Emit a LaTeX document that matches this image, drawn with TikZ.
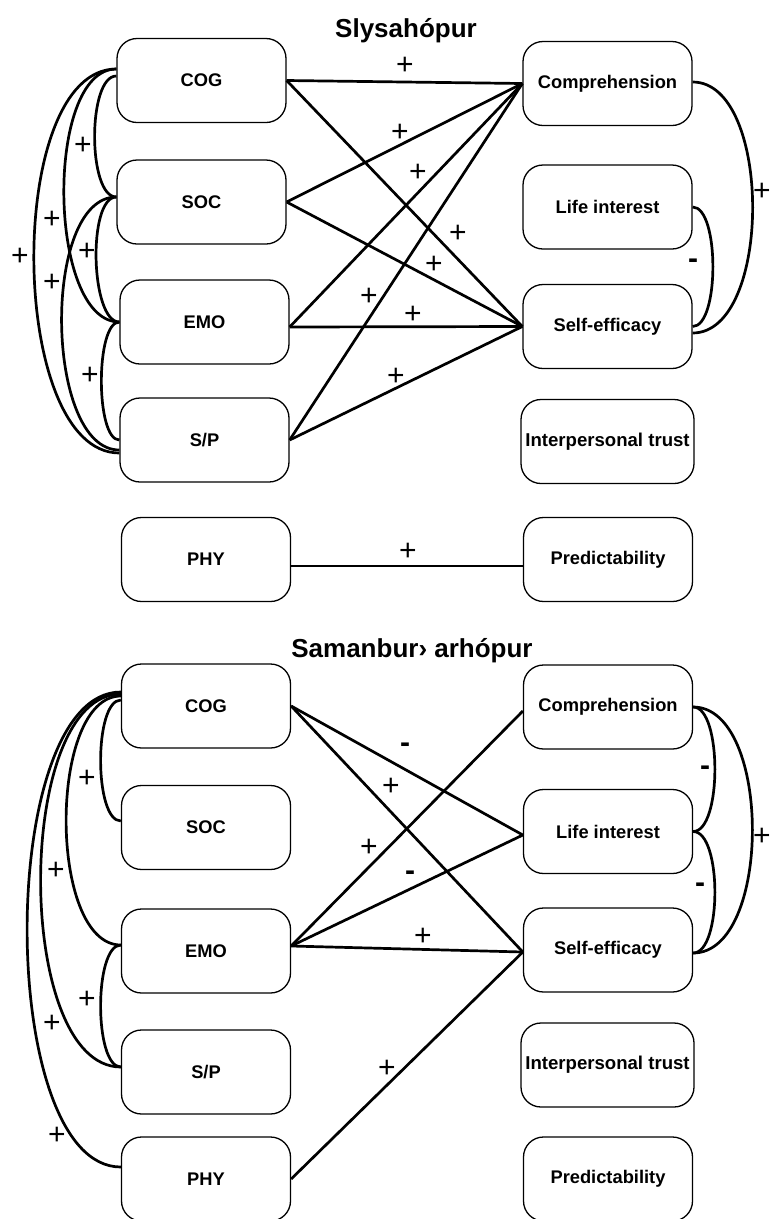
\documentclass[tikz,border=0pt]{standalone}
\usepackage{fontspec}
\setmainfont{Liberation Sans}
\begin{document}
\begin{tikzpicture}[x=1pt,y=-1pt,
  box/.style={draw, line width=1.3pt, rounded corners=20pt, minimum width=169pt,
    minimum height=84pt, inner sep=0pt, font=\fontsize{18.3}{20}\selectfont\bfseries},
  widebox/.style={box, minimum width=173pt, font=\fontsize{18.6}{20}\selectfont\bfseries},
  link/.style={line width=2.7pt},
  sign/.style={inner sep=0pt, font=\fontsize{30}{32}\selectfont},
  neg/.style={inner sep=0pt, font=\fontsize{30}{32}\selectfont\bfseries},
  heading/.style={anchor=base, inner sep=0pt, font=\fontsize{26}{30}\selectfont\bfseries}]
\fill[white] (0,0) rectangle (771,1219);
\useasboundingbox (0,0) rectangle (771,1219);

% ---------------- upper panel ----------------
\node[heading] (title1) at (406,37) {Slysahópur};

\node[box] (tcog) at (201.5,80.5) {COG};
\node[box] (tsoc) at (201.5,202) {SOC};
\node[box] (temo) at (204.5,322) {EMO};
\node[box] (tsp) at (204.5,440) {S/P};
\node[box] (tphy) at (206,559.5) {PHY};
\node[box] (tcomp) at (607.5,83.5) {Comprehension};
\node[box] (tlife) at (607.5,207) {Life interest};
\node[box] (tse) at (607.5,326.5) {Self-efficacy};
\node[widebox] (ttrust) at (607.5,441.5) {Interpersonal trust};
\node[box] (tpred) at (608,559.5) {Predictability};

% paths between the two columns
\draw[link] (tcog.east) -- (tcomp.west);
\draw[link] (tcog.east) -- (tse.west);
\draw[link] (tsoc.east) -- (tcomp.west);
\draw[link] (tsoc.east) -- (tse.west);
\draw[link] ([yshift=-5pt]temo.east) -- (tcomp.west);
\draw[link] ([yshift=-5pt]temo.east) -- (tse.west);
\draw[link] (tsp.east) -- (tcomp.west);
\draw[link] (tsp.east) -- (tse.west);
\draw[link] ([yshift=-6.5pt]tphy.east) -- ([yshift=-6.5pt]tpred.west);

% correlations among the left column
\draw[link] ([yshift=4.5pt]tcog.west) .. controls +(-29,0) and +(-29,0) .. ([yshift=5pt]tsoc.west);
\draw[link] ([yshift=11.5pt]tcog.west) .. controls +(-72,0) and +(-72,0) .. (temo.west);
\draw[link] ([yshift=11.5pt]tcog.west) .. controls +(-112,0) and +(-112,0) .. ([yshift=-13pt]tsp.west);
\draw[link] ([yshift=5pt]tsoc.west) .. controls +(-29,0) and +(-29,0) .. (temo.west);
\draw[link] ([yshift=5pt]tsoc.west) .. controls +(-75,0) and +(-75,0) .. ([yshift=-10pt]tsp.west);
\draw[link] (temo.west) .. controls +(-24,0) and +(-24,0) .. (tsp.west);

% correlations among the right column
\draw[link] ([yshift=1.5pt]tcomp.east) .. controls +(80,0) and +(80,0) .. ([yshift=-6.5pt]tse.east);
\draw[link] (tlife.east) .. controls +(27,0) and +(27,0) .. (tse.east);

% signs
\node[sign] (ta1) at (405,66) {+};
\node[sign] (ta2) at (458,234) {+};
\node[sign] (ta3) at (400,133) {+};
\node[sign] (ta4) at (434,265) {+};
\node[sign] (ta5) at (418,173) {+};
\node[sign] (ta6) at (413,315) {+};
\node[sign] (ta7) at (369,297) {+};
\node[sign] (ta8) at (396,377) {+};
\node[sign] (ta9) at (408,552) {+};
\node[sign] (tb1) at (83,146) {+};
\node[sign] (tb2) at (52,220) {+};
\node[sign] (tb3) at (20,257) {+};
\node[sign] (tb4) at (87,252) {+};
\node[sign] (tb5) at (52,283) {+};
\node[sign] (tb6) at (90,376) {+};
\node[sign] (tc1) at (762,192) {+};
\node[neg] (tc2) at (693,264) {-};

% ---------------- lower panel ----------------
\node[heading] (title2) at (412,657) {Samanbur› arhópur};

\node[box] (bcog) at (206,706) {COG};
\node[box] (bsoc) at (206,827.5) {SOC};
\node[box] (bemo) at (206,951) {EMO};
\node[box] (bsp) at (206,1072) {S/P};
\node[box] (bphy) at (206,1179) {PHY};
\node[box] (bcomp) at (608,707) {Comprehension};
\node[box] (blife) at (608,831.5) {Life interest};
\node[box] (bse) at (608,950) {Self-efficacy};
\node[widebox] (btrust) at (607.5,1065) {Interpersonal trust};
\node[box] (bpred) at (608,1179) {Predictability};

% paths between the two columns
\draw[link] (bcog.east) -- ([yshift=-3.5pt]blife.west);
\draw[link] (bcog.east) -- ([yshift=-2pt]bse.west);
\draw[link] ([yshift=5pt]bemo.east) -- ([yshift=-4pt]bcomp.west);
\draw[link] ([yshift=5pt]bemo.east) -- ([yshift=-3.5pt]blife.west);
\draw[link] ([yshift=5pt]bemo.east) -- ([yshift=-2pt]bse.west);
\draw[link] (bphy.east) -- ([yshift=-2pt]bse.west);

% correlations among the left column
\draw[link] ([yshift=6pt]bcog.west) .. controls +(-27,0) and +(-27,0) .. ([yshift=6.5pt]bsoc.west);
\draw[link] ([yshift=10pt]bcog.west) .. controls +(-73,0) and +(-73,0) .. ([yshift=6pt]bemo.west);
\draw[link] ([yshift=12pt]bcog.west) .. controls +(-107,0) and +(-107,0) .. ([yshift=5pt]bsp.west);
\draw[link] ([yshift=14pt]bcog.west) .. controls +(-125,0) and +(-125,0) .. ([yshift=12pt]bphy.west);
\draw[link] ([yshift=6pt]bemo.west) .. controls +(-27,0) and +(-27,0) .. ([yshift=5pt]bsp.west);

% correlations among the right column
\draw[link] (bcomp.east) .. controls +(29,0) and +(29,0) .. (blife.east);
\draw[link] (blife.east) .. controls +(29,0) and +(29,0) .. ([yshift=-3pt]bse.east);
\draw[link] (bcomp.east) .. controls +(79,0) and +(79,0) .. ([yshift=-3pt]bse.east);

% signs
\node[neg] (ba1) at (405,748) {-};
\node[sign] (ba2) at (391,787) {+};
\node[sign] (ba3) at (369,848) {+};
\node[neg] (ba4) at (410,876) {-};
\node[sign] (ba5) at (423,937) {+};
\node[sign] (ba6) at (387,1069) {+};
\node[sign] (bb1) at (87,779) {+};
\node[sign] (bb2) at (56,871) {+};
\node[sign] (bb3) at (87,1000) {+};
\node[sign] (bb4) at (52,1024) {+};
\node[sign] (bb5) at (57,1136) {+};
\node[neg] (bc1) at (705,771) {-};
\node[neg] (bc2) at (700,888) {-};
\node[sign] (bc3) at (762,837) {+};
\end{tikzpicture}
\end{document}
